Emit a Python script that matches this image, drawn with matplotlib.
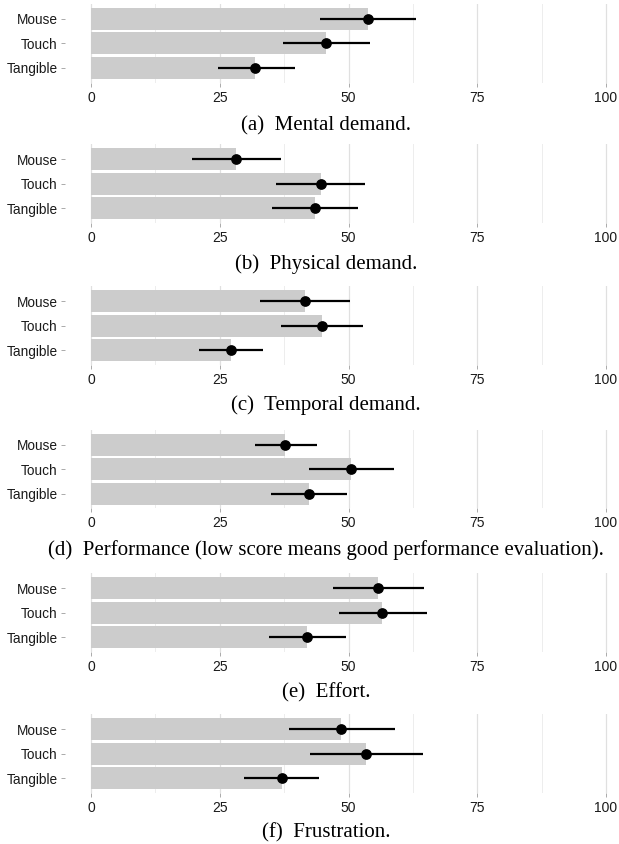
import matplotlib
matplotlib.use("Agg")
import matplotlib.pyplot as plt
import numpy as np

# ---- data ----
categories = ["Mouse", "Touch", "Tangible"]
captions = [
    "(a)  Mental demand.",
    "(b)  Physical demand.",
    "(c)  Temporal demand.",
    "(d)  Performance (low score means good performance evaluation).",
    "(e)  Effort.",
    "(f)  Frustration.",
]
mental_mean = [53.8, 45.6, 31.9]
mental_lo = [44.5, 37.2, 24.7]
mental_hi = [63.2, 54.2, 39.6]

physical_mean = [28.2, 44.6, 43.4]
physical_lo = [19.7, 36.0, 35.1]
physical_hi = [36.9, 53.3, 51.9]

temporal_mean = [41.6, 44.8, 27.1]
temporal_lo = [32.9, 36.8, 20.9]
temporal_hi = [50.3, 52.8, 33.4]

performance_mean = [37.6, 50.5, 42.3]
performance_lo = [31.8, 42.3, 35.0]
performance_hi = [43.8, 58.8, 49.7]

effort_mean = [55.8, 56.6, 41.9]
effort_lo = [47.0, 48.1, 34.5]
effort_hi = [64.6, 65.2, 49.5]

frustration_mean = [48.6, 53.4, 37.0]
frustration_lo = [38.4, 42.5, 29.8]
frustration_hi = [59.1, 64.4, 44.3]

x_ticks = [0, 25, 50, 75, 100]
x_minor = [12.5, 37.5, 62.5, 87.5]

panels = [
    (mental_mean, mental_lo, mental_hi),
    (physical_mean, physical_lo, physical_hi),
    (temporal_mean, temporal_lo, temporal_hi),
    (performance_mean, performance_lo, performance_hi),
    (effort_mean, effort_lo, effort_hi),
    (frustration_mean, frustration_lo, frustration_hi),
]

# ---- layout (pixels) ----
W, H = 619, 844
fig = plt.figure(figsize=(W / 100, H / 100), dpi=100)

ax_tops = [4.0, 144.3, 286.3, 429.9, 573.3, 714.3]
ax_h = 78.5
cap_base = [130, 269, 410, 555, 697, 837]
cap_center_px = 326
left_px = 65.25
width_px = 566.5

for i, (mean, lo, hi) in enumerate(panels):
    top = ax_tops[i]
    ax = fig.add_axes([left_px / W, 1 - (top + ax_h) / H, width_px / W, ax_h / H])
    y = np.arange(1, len(categories) + 1)
    ax.barh(y, mean, height=0.9, color="#cccccc", zorder=2)
    mean_a = np.array(mean)
    ax.hlines(y, lo, hi, color="black", lw=1.6, zorder=3)
    ax.plot(mean_a, y, "o", color="black", ms=6.7, zorder=4)
    ax.set_xlim(-5, 105)
    ax.set_ylim(3.6, 0.4)
    ax.set_xticks(x_ticks)
    ax.set_xticks(x_minor, minor=True)
    ax.set_xticklabels([str(t) for t in x_ticks], fontsize=10,
                       family="Liberation Sans", color="#1a1a1a")
    ax.set_yticks(y)
    ax.set_yticklabels(categories, fontsize=9.8, family="Liberation Sans",
                       color="#1a1a1a")
    ax.grid(axis="x", which="major", color="#e0e0e0", lw=0.9, zorder=0)
    ax.grid(axis="x", which="minor", color="#ededed", lw=0.7, zorder=0)
    ax.set_axisbelow(True)
    for s in ax.spines.values():
        s.set_visible(False)
    ax.tick_params(axis="x", which="major", length=3, width=0.7,
                   color="#aaaaaa", pad=2.8)
    ax.tick_params(axis="x", which="minor", length=0)
    ax.tick_params(axis="y", length=3, width=0.7, color="#aaaaaa", pad=2.5)
    fig.text(cap_center_px / W, 1 - cap_base[i] / H, captions[i], ha="center",
             va="baseline", fontsize=15, family="Liberation Serif",
             color="black")

fig.savefig("out.png", dpi=100)
